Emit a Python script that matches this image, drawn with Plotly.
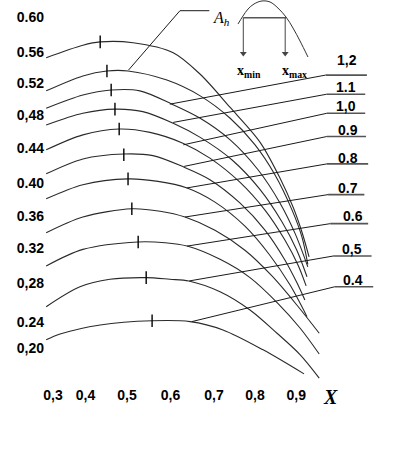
import plotly.graph_objects as go

# ---------------- data (chart units) ----------------
x_c1 = [0.308, 0.395, 0.436, 0.514, 0.609, 0.673, 0.744, 0.815, 0.862, 0.893, 0.914, 0.931]
y_c1 = [0.551, 0.566, 0.570, 0.569, 0.557, 0.531, 0.491, 0.449, 0.406, 0.371, 0.341, 0.311]
x_c2 = [0.308, 0.395, 0.452, 0.502, 0.594, 0.673, 0.744, 0.803, 0.850, 0.891, 0.914, 0.928]
y_c2 = [0.511, 0.529, 0.535, 0.535, 0.524, 0.505, 0.478, 0.446, 0.410, 0.367, 0.335, 0.302]
x_c3 = [0.308, 0.395, 0.462, 0.530, 0.606, 0.673, 0.744, 0.810, 0.862, 0.898, 0.928]
y_c3 = [0.490, 0.506, 0.512, 0.511, 0.495, 0.478, 0.452, 0.416, 0.376, 0.339, 0.299]
x_c4 = [0.308, 0.395, 0.471, 0.537, 0.609, 0.673, 0.748, 0.815, 0.867, 0.902, 0.926]
y_c4 = [0.470, 0.484, 0.489, 0.486, 0.472, 0.455, 0.428, 0.392, 0.353, 0.319, 0.287]
x_c5 = [0.308, 0.395, 0.481, 0.554, 0.632, 0.696, 0.767, 0.827, 0.874, 0.905, 0.924]
y_c5 = [0.440, 0.458, 0.465, 0.461, 0.448, 0.430, 0.401, 0.367, 0.331, 0.301, 0.276]
x_c6 = [0.308, 0.395, 0.492, 0.561, 0.635, 0.696, 0.767, 0.827, 0.874, 0.902, 0.921]
y_c6 = [0.411, 0.429, 0.435, 0.433, 0.419, 0.404, 0.376, 0.343, 0.307, 0.280, 0.259]
x_c7 = [0.308, 0.395, 0.502, 0.573, 0.642, 0.708, 0.779, 0.838, 0.886, 0.926]
y_c7 = [0.381, 0.398, 0.405, 0.402, 0.394, 0.377, 0.348, 0.313, 0.277, 0.239]
x_c8 = [0.308, 0.395, 0.511, 0.578, 0.637, 0.708, 0.779, 0.843, 0.902, 0.955]
y_c8 = [0.340, 0.359, 0.369, 0.366, 0.359, 0.343, 0.319, 0.288, 0.253, 0.219]
x_c9 = [0.308, 0.395, 0.526, 0.590, 0.642, 0.720, 0.791, 0.857, 0.910, 0.955]
y_c9 = [0.300, 0.320, 0.329, 0.328, 0.324, 0.308, 0.286, 0.255, 0.225, 0.194]
x_c10 = [0.308, 0.388, 0.459, 0.545, 0.601, 0.646, 0.720, 0.791, 0.855, 0.910, 0.955]
y_c10 = [0.251, 0.275, 0.284, 0.286, 0.284, 0.282, 0.269, 0.247, 0.219, 0.193, 0.165]
x_c11 = [0.308, 0.341, 0.436, 0.559, 0.649, 0.727, 0.822, 0.919]
y_c11 = [0.211, 0.218, 0.229, 0.234, 0.233, 0.223, 0.199, 0.170]

peak_x = [0.436, 0.452, 0.462, 0.471, 0.481, 0.492, 0.502, 0.511, 0.526, 0.545, 0.559]
peak_y = [0.570, 0.535, 0.512, 0.489, 0.465, 0.434, 0.405, 0.369, 0.329, 0.286, 0.234]

curve_labels = ["1,2", "1.1", "1,0", "0.9", "0.8", "0.7", "0.6", "0,5", "0.4"]
label_pt_x = [0.601, 0.609, 0.633, 0.635, 0.641, 0.637, 0.642, 0.647, 0.653]
label_pt_y = [0.495, 0.473, 0.446, 0.420, 0.394, 0.359, 0.324, 0.282, 0.233]

y_tick_labels = ["0.60", "0.56", "0.52", "0,48", "0.44", "0.40", "0.36", "0.32", "0,28", "0.24", "0,20"]
x_tick_labels = ["0,3", "0,4", "0,5", "0,6", "0,7", "0,8", "0,9"]

# inset sketch (A_h definition)
inset_x = [0.7626, 0.7744, 0.7863, 0.8005, 0.8194, 0.8384, 0.8573, 0.8763, 0.8929, 0.9095, 0.9284]
inset_y = [0.5916, 0.6012, 0.6096, 0.6157, 0.6193, 0.6181, 0.6108, 0.6000, 0.5867, 0.5711, 0.5518]
ah_pt = (0.503, 0.536)
xmin_pos = 0.7751
xmax_pos = 0.8744

# ---------------- layout helpers (positions) ----------------
y_tick_pos = [0.5996, 0.5582, 0.5201, 0.4819, 0.4425, 0.4004, 0.3602, 0.3213, 0.2799, 0.2329, 0.2008]
x_tick_pos = [0.3242, 0.4012, 0.4995, 0.6026, 0.7057, 0.8028, 0.9007]
under_x0 = [0.970, 0.973, 0.973, 0.973, 0.973, 0.976, 0.981, 0.988, 0.992]
under_x1 = [1.068, 1.064, 1.064, 1.066, 1.071, 1.062, 1.071, 1.079, 1.083]
under_y = [0.530, 0.507, 0.484, 0.456, 0.423, 0.386, 0.351, 0.312, 0.275]
text_x = [1.020, 1.018, 1.018, 1.023, 1.023, 1.024, 1.036, 1.032, 1.036]
text_y = [0.548, 0.516, 0.493, 0.464, 0.430, 0.394, 0.360, 0.320, 0.283]

curves = [(x_c1, y_c1), (x_c2, y_c2), (x_c3, y_c3), (x_c4, y_c4), (x_c5, y_c5), (x_c6, y_c6),
          (x_c7, y_c7), (x_c8, y_c8), (x_c9, y_c9), (x_c10, y_c10), (x_c11, y_c11)]

fig = go.Figure()
LINE = "#2a2a2a"

for cx, cy in curves:
    fig.add_trace(go.Scatter(x=cx, y=cy, mode="lines",
                             line=dict(color=LINE, width=1.1, shape="spline", smoothing=0.9),
                             hoverinfo="skip", showlegend=False))

fig.add_trace(go.Scatter(x=peak_x, y=peak_y, mode="markers",
                         marker=dict(symbol="line-ns", size=9, line=dict(color="black", width=1.4)),
                         hoverinfo="skip", showlegend=False))

# leaders + underlines
for i, lab in enumerate(curve_labels):
    fig.add_trace(go.Scatter(x=[label_pt_x[i], under_x0[i]], y=[label_pt_y[i], under_y[i]],
                             mode="lines", line=dict(color="#1a1a1a", width=1),
                             hoverinfo="skip", showlegend=False))
    fig.add_trace(go.Scatter(x=[under_x0[i], under_x1[i]], y=[under_y[i], under_y[i]],
                             mode="lines", line=dict(color="#555555", width=1.6),
                             hoverinfo="skip", showlegend=False))
    fig.add_annotation(x=text_x[i], y=text_y[i], text=lab, showarrow=False,
                       font=dict(family="Liberation Sans", size=14, color="black", weight="bold"))

# A_h leader
fig.add_trace(go.Scatter(x=[ah_pt[0], 0.625, 0.6946], y=[ah_pt[1], 0.6076, 0.6076], mode="lines",
                         line=dict(color="#1a1a1a", width=1), hoverinfo="skip", showlegend=False))
fig.add_annotation(x=0.724, y=0.5976, text="<i>A</i><sub><i>h</i></sub>", showarrow=False,
                   font=dict(family="Liberation Serif", size=16, color="black"))

# inset sketch
fig.add_trace(go.Scatter(x=inset_x, y=inset_y, mode="lines",
                         line=dict(color="#333333", width=1, shape="spline"),
                         hoverinfo="skip", showlegend=False))
fig.add_trace(go.Scatter(x=[xmin_pos, 0.8763], y=[0.5992, 0.5992], mode="lines",
                         line=dict(color="#555555", width=1.5), hoverinfo="skip", showlegend=False))
for ax_x in [xmin_pos, xmax_pos]:
    fig.add_trace(go.Scatter(x=[ax_x, ax_x], y=[0.5992, 0.5560], mode="lines",
                             line=dict(color="#444444", width=1), hoverinfo="skip", showlegend=False))
fig.add_trace(go.Scatter(x=[xmin_pos, xmax_pos], y=[0.5560, 0.5560], mode="markers",
                         marker=dict(symbol="triangle-down", size=6, color="#444444"),
                         hoverinfo="skip", showlegend=False))
fig.add_annotation(x=0.7886, y=0.5341, text="<b>x</b><sub><b>min</b></sub>", showarrow=False,
                   font=dict(family="Liberation Serif", size=14, color="black"))
fig.add_annotation(x=0.8976, y=0.5341, text="<b>x</b><sub><b>max</b></sub>", showarrow=False,
                   font=dict(family="Liberation Serif", size=14, color="black"))

# axis name
fig.add_annotation(x=0.9806, xref="x", y=-0.031, yref="paper", yanchor="middle",
                   text="<b><i>X</i></b>", showarrow=False,
                   font=dict(family="Liberation Serif", size=20, color="black"))

fig.update_layout(
    width=397, height=467,
    margin=dict(l=45, r=0, t=0, b=82),
    paper_bgcolor="white", plot_bgcolor="white",
    showlegend=False,
    xaxis=dict(range=[0.30521, 1.13934], showgrid=False, zeroline=False, showline=False,
               ticks="", tickvals=x_tick_pos, ticktext=x_tick_labels,
               tickfont=dict(family="Liberation Sans", size=14, color="black", weight="bold")),
    yaxis=dict(range=[0.156627, 0.620482], showgrid=False, zeroline=False, showline=False,
               ticks="", tickvals=y_tick_pos, ticktext=y_tick_labels,
               tickfont=dict(family="Liberation Sans", size=14, color="black", weight="bold")),
)

fig.write_html("out.html")
